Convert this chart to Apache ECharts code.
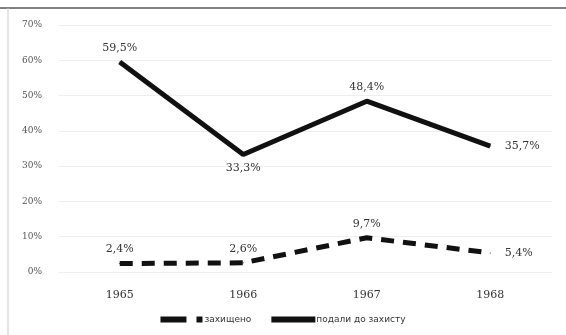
<!DOCTYPE html>
<html><head><meta charset="utf-8">
<script src="https://cdn.jsdelivr.net/npm/echarts@6/dist/echarts.min.js"></script>
<style>html,body{margin:0;padding:0;background:#fff}#c{width:566px;height:335px}</style>
</head><body><div id="c"></div>
<script>
const categories = ['1965', '1966', '1967', '1968'];
const defended = [2.4, 2.6, 9.7, 5.4];
const submitted = [59.5, 33.3, 48.4, 35.7];
const defendedLabel = 'захищено';
const submittedLabel = 'подали до захисту';

const fmt = p => String(p.value).replace('.', ',') + '%';
const defPos = ['top', 'top', 'top', 'right'];
const subPos = ['top', 'bottom', 'top', 'right'];
const toData = (arr, pos) => arr.map((v, i) => ({
  value: v,
  label: { position: pos[i], distance: pos[i] === 'right' ? 14 : 8 }
}));

const chart = echarts.init(document.getElementById('c'));
chart.setOption({
  backgroundColor: '#fff',
  animation: false,
  textStyle: { fontFamily: 'DejaVu Serif' },
  grid: { left: 58, right: 14, top: 25, bottom: 63 },
  graphic: [
    { type: 'line', shape: { x1: 0, y1: 8, x2: 566, y2: 8 }, style: { stroke: '#555', lineWidth: 1.5 } },
    { type: 'line', shape: { x1: 8, y1: 8, x2: 8, y2: 335 }, style: { stroke: '#ccc', lineWidth: 1 } }
  ],
  legend: {
    bottom: 6, left: 'center', itemWidth: 44, itemHeight: 6, itemGap: 20,
    textStyle: { fontFamily: 'DejaVu Sans', fontSize: 9, color: '#333', padding: [0, 0, 0, -4] },
    data: [
      { name: defendedLabel, icon: 'path://M0,0h26v6h-26z M36,0h6v6h-6z' },
      { name: submittedLabel, icon: 'rect' }
    ]
  },
  xAxis: {
    type: 'category', data: categories, boundaryGap: true,
    axisLine: { show: false }, axisTick: { show: false },
    axisLabel: { color: '#333', fontSize: 11, margin: 18 }
  },
  yAxis: {
    type: 'value', min: 0, max: 70, interval: 10,
    axisLabel: { formatter: '{value}%', color: '#555', fontSize: 9, margin: 16 },
    axisLine: { show: false }, axisTick: { show: false },
    splitLine: { lineStyle: { color: '#eee', width: 1 } }
  },
  series: [
    {
      name: defendedLabel, type: 'line', data: toData(defended, defPos),
      symbol: 'circle', symbolSize: 1, showSymbol: true,
      lineStyle: { color: '#111', width: 5, type: [13, 9] },
      itemStyle: { color: '#111' },
      label: { show: true, formatter: fmt, color: '#333', fontSize: 11 }
    },
    {
      name: submittedLabel, type: 'line', data: toData(submitted, subPos),
      symbol: 'circle', symbolSize: 1, showSymbol: true,
      lineStyle: { color: '#111', width: 5 },
      itemStyle: { color: '#111' },
      label: { show: true, formatter: fmt, color: '#333', fontSize: 11 }
    }
  ]
});
</script></body></html>
